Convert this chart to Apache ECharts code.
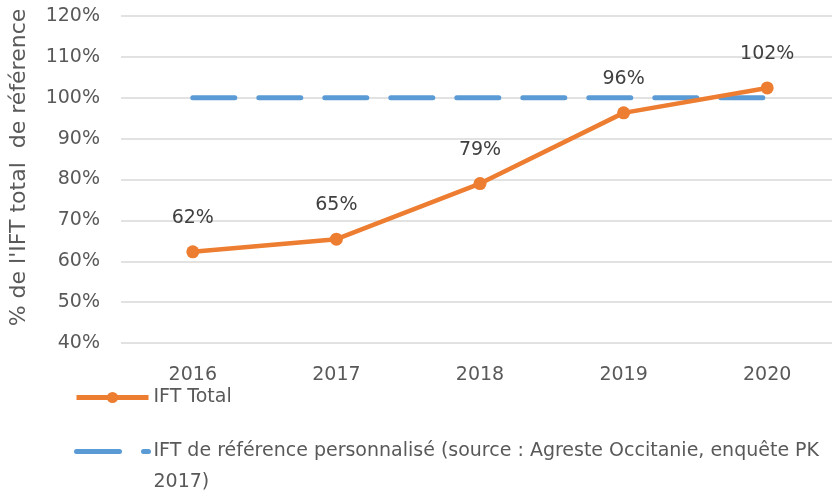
<!DOCTYPE html>
<html><head><meta charset="utf-8">
<script src="https://cdn.jsdelivr.net/npm/echarts@6/dist/echarts.min.js"></script>
<style>html,body{margin:0;padding:0;background:#fff;overflow:hidden}#c{width:839px;height:494px}</style>
</head><body><div id="c"></div>
<script>
const categories = ['2016','2017','2018','2019','2020'];
const iftTotal = [62.3, 65.4, 79.0, 96.3, 102.4];
const iftReference = [100, 100, 100, 100, 100];
const yTicks = [40, 50, 60, 70, 80, 90, 100, 110, 120];
const nameTotal = 'IFT Total';
const nameRef = 'IFT de référence personnalisé (source : Agreste Occitanie, enquête PK 2017)';

const FONT = 'DejaVu Sans';
const chart = echarts.init(document.getElementById('c'));
chart.setOption({
  animation: false,
  textStyle: {fontFamily: FONT},
  grid: {left: 119, top: 16, right: 0, height: 327},
  xAxis: {
    type: 'category', data: categories, boundaryGap: true,
    axisLine: {show: false}, axisTick: {show: false},
    axisLabel: {color: '#595959', fontSize: 19, margin: 23, fontFamily: FONT}
  },
  yAxis: {
    type: 'value', min: yTicks[0], max: yTicks[yTicks.length-1], interval: 10,
    name: "% de l'IFT total  de référence", nameLocation: 'middle', nameRotate: 90, nameGap: 91,
    nameTextStyle: {color: '#595959', fontSize: 22, fontFamily: FONT, padding: [0, 0, 0, 24]},
    axisLine: {show: false}, axisTick: {show: false},
    axisLabel: {color: '#595959', fontSize: 19, margin: 21, formatter: v => v + '%', fontFamily: FONT},
    splitLine: {lineStyle: {color: '#d9d9d9', width: 1.5}}
  },
  legend: [
    {data: [nameTotal], left: 69, top: 383, itemWidth: 72, itemHeight: 14,
     lineStyle: {width: 5, color: '#ED7D31'},
     textStyle: {color: '#595959', fontSize: 19, fontFamily: FONT}},
    {data: [nameRef], left: 69, top: 400, itemWidth: 72, itemHeight: 14,
     lineStyle: {width: 5, color: '#5B9BD5', type: [43, 24], cap: 'round'},
     itemStyle: {opacity: 0},
     formatter: n => '\n' + n.replace(' PK 2017)', ' PK\n2017)'),
     textStyle: {color: '#595959', fontSize: 19, lineHeight: 31, fontFamily: FONT}}
  ],
  series: [
    {name: nameRef, type: 'line', data: iftReference, showSymbol: false, symbol: 'none',
     lineStyle: {color: '#5B9BD5', width: 5, type: [42, 24], cap: 'round'},
     itemStyle: {color: '#5B9BD5'}, z: 2},
    {name: nameTotal, type: 'line', data: iftTotal, symbol: 'circle', symbolSize: 13,
     lineStyle: {color: '#ED7D31', width: 4.5}, itemStyle: {color: '#ED7D31'},
     label: {show: true, position: 'top', distance: 18, color: '#404040', fontSize: 19, fontFamily: FONT,
             formatter: p => Math.round(p.value) + '%'}, z: 3}
  ]
});
</script></body></html>
